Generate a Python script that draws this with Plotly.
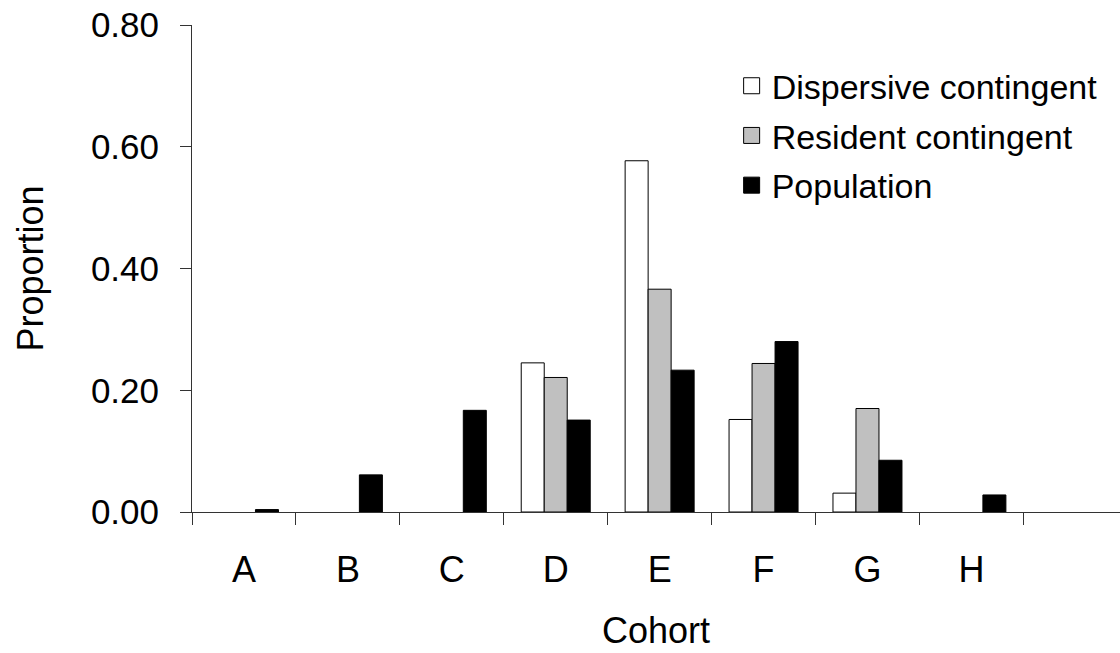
import plotly.graph_objects as go

cohorts = ["A", "B", "C", "D", "E", "F", "G", "H"]
dispersive = [0.0, 0.0, 0.0, 0.245, 0.577, 0.152, 0.031, 0.0]
resident = [0.0, 0.0, 0.0, 0.221, 0.366, 0.244, 0.170, 0.0]
population = [0.004, 0.061, 0.167, 0.151, 0.233, 0.280, 0.085, 0.028]

series_names = ["Dispersive contingent", "Resident contingent", "Population"]
series_values = [dispersive, resident, population]
series_colors = ["#FFFFFF", "#C0C0C0", "#000000"]

FONT = "Liberation Sans, Arial, sans-serif"

fig = go.Figure()
for name, vals, col in zip(series_names, series_values, series_colors):
    fig.add_trace(go.Bar(
        x=cohorts, y=vals, name=name, showlegend=False, legendgroup=name,
        marker=dict(color=col,
                    line=dict(color="#000000",
                              width=[1 if v > 0 else 0 for v in vals])),
    ))
# legend entries (larger square symbols)
for name, col in zip(series_names, series_colors):
    fig.add_trace(go.Scatter(
        x=[None], y=[None], mode="markers", name=name, legendgroup=name,
        marker=dict(symbol="square", size=16, color=col,
                    line=dict(color="#000000", width=1)),
    ))

fig.update_layout(
    width=1120, height=653,
    margin=dict(l=192, r=0, t=25, b=141, pad=0),
    paper_bgcolor="white", plot_bgcolor="white",
    barmode="group", bargap=0.336, bargroupgap=0,
    font=dict(family=FONT, size=35, color="#000000"),
    legend=dict(x=0.5815, y=0.934, xanchor="left", yanchor="top",
                traceorder="grouped", tracegroupgap=2.5,
                bgcolor="rgba(0,0,0,0)", font=dict(size=34)),
    showlegend=True,
)
fig.update_xaxes(
    type="category", categoryorder="array", categoryarray=cohorts,
    range=[-0.5, 8.43], showgrid=False, zeroline=False,
    showline=True, linecolor="#333333", linewidth=1,
    ticks="outside", tickson="boundaries", ticklen=12, tickcolor="#333333",
    ticklabelstandoff=26,
    tickfont=dict(size=36),
    title=dict(text="Cohort", font=dict(size=36), standoff=28),
)
fig.update_yaxes(
    range=[0, 0.8], tickvals=[0, 0.2, 0.4, 0.6, 0.8], tickformat=".2f",
    showgrid=False, zeroline=False,
    showline=True, linecolor="#333333", linewidth=1,
    ticks="outside", ticklen=11, tickcolor="#333333",
    ticklabelstandoff=14,
    tickfont=dict(size=35),
    title=dict(text="Proportion", font=dict(size=36), standoff=36),
)

fig.write_html("out.html")
